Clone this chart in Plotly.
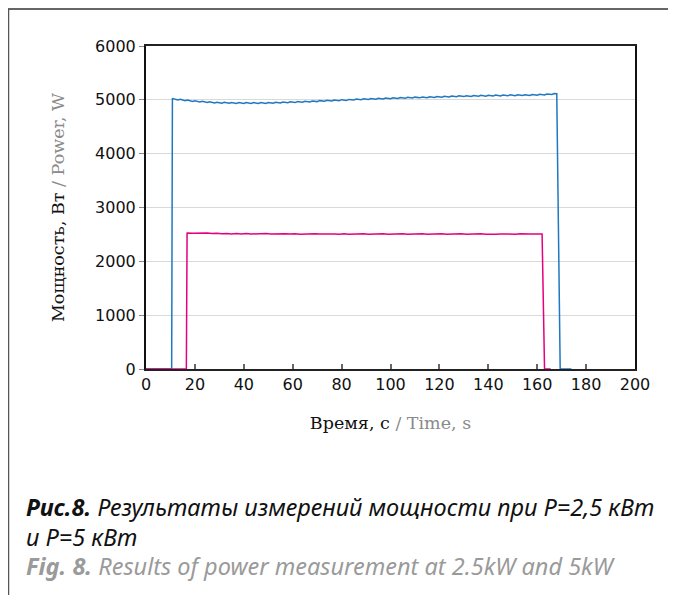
import plotly.graph_objects as go

# ---- data ----
blue_t = [0, 10.5, 10.8,
          11, 12, 13, 14, 15, 16, 17, 18, 19, 20,
          21, 22, 23, 24, 25, 26, 27, 28, 29, 30,
          31, 32, 33, 34, 35, 36, 37, 38, 39, 40,
          41, 42, 43, 44, 45, 46, 47, 48, 49, 50,
          51, 52, 53, 54, 55, 56, 57, 58, 59, 60,
          61, 62, 63, 64, 65, 66, 67, 68, 69, 70,
          71, 72, 73, 74, 75, 76, 77, 78, 79, 80,
          81, 82, 83, 84, 85, 86, 87, 88, 89, 90,
          91, 92, 93, 94, 95, 96, 97, 98, 99, 100,
          101, 102, 103, 104, 105, 106, 107, 108, 109, 110,
          111, 112, 113, 114, 115, 116, 117, 118, 119, 120,
          121, 122, 123, 124, 125, 126, 127, 128, 129, 130,
          131, 132, 133, 134, 135, 136, 137, 138, 139, 140,
          141, 142, 143, 144, 145, 146, 147, 148, 149, 150,
          151, 152, 153, 154, 155, 156, 157, 158, 159, 160,
          161, 162, 163, 164, 165, 166, 167, 168,
          169.4, 174]
blue_p = [0, 0, 5020,
          5023, 5009, 4999, 5011, 4993, 4983, 4995, 4981, 4971, 4983,
          4970, 4961, 4974, 4961, 4952, 4965, 4952, 4943, 4956, 4943,
          4937, 4953, 4941, 4935, 4950, 4941, 4933, 4949, 4940, 4934,
          4948, 4938, 4933, 4949, 4939, 4933, 4950, 4940, 4934, 4950,
          4941, 4937, 4954, 4945, 4941, 4958, 4949, 4945, 4962, 4953,
          4949, 4967, 4959, 4955, 4973, 4965, 4961, 4979, 4971, 4967,
          4985, 4977, 4973, 4991, 4983, 4979, 4997, 4989, 4985, 5003,
          4995, 4990, 5008, 5000, 4996, 5013, 5005, 5001, 5018, 5010,
          5006, 5023, 5015, 5010, 5028, 5020, 5015, 5033, 5024, 5020,
          5037, 5029, 5024, 5042, 5033, 5028, 5046, 5037, 5033, 5050,
          5041, 5037, 5054, 5045, 5041, 5058, 5049, 5045, 5062, 5053,
          5048, 5066, 5057, 5052, 5070, 5061, 5056, 5074, 5065, 5060,
          5077, 5068, 5063, 5080, 5071, 5066, 5083, 5074, 5069, 5086,
          5077, 5071, 5088, 5079, 5073, 5090, 5081, 5075, 5092, 5083,
          5078, 5094, 5085, 5080, 5096, 5087, 5082, 5098, 5089, 5084,
          5102, 5094, 5090, 5108, 5101, 5098, 5118, 5114,
          0, 0]

pink_t = [0, 16.5, 16.8,
          17, 19, 21, 23, 25, 27, 29, 31, 33, 35, 37, 39, 41, 43, 45, 47, 49,
          51, 53, 55, 57, 59, 61, 63, 65, 67, 69, 71, 73, 75, 77, 79, 81, 83,
          85, 87, 89, 91, 93, 95, 97, 99, 101, 103, 105, 107, 109, 111, 113,
          115, 117, 119, 121, 123, 125, 127, 129, 131, 133, 135, 137, 139,
          141, 143, 145, 147, 149, 151, 153, 155, 157, 159, 161, 162,
          163, 165.5]
pink_p = [0, 0, 2525,
          2528, 2522, 2526, 2518, 2524, 2515, 2521, 2512, 2519, 2510, 2517,
          2509, 2516, 2508, 2514, 2507, 2515, 2508, 2513, 2505, 2512, 2506,
          2513, 2505, 2511, 2504, 2512, 2506, 2511, 2504, 2510, 2503, 2511,
          2505, 2510, 2503, 2511, 2504, 2510, 2505, 2511, 2503, 2510, 2504,
          2511, 2505, 2510, 2503, 2511, 2504, 2510, 2505, 2512, 2504, 2510,
          2505, 2511, 2504, 2510, 2505, 2512, 2504, 2511, 2505, 2510, 2504,
          2512, 2505, 2511, 2504, 2510, 2506, 2512, 2508,
          0, 0]

x_ticks = [0, 20, 40, 60, 80, 100, 120, 140, 160, 180, 200]
y_ticks = [0, 1000, 2000, 3000, 4000, 5000, 6000]

# ---- layout geometry (window pixels; page body has an 8px margin) ----
O = 8
W, H = 676 - O, 595 - O
L, R, T, B = 146 - O, 635 - O, 46 - O, 369 - O
pw, ph = R - L, B - T


def px(x):
    return (x - O - L) / pw


def py(y):
    return (B - (y - O)) / ph


fig = go.Figure()
fig.add_trace(go.Scatter(x=blue_t, y=blue_p, mode="lines",
                         line=dict(color="#1f78c1", width=1.5), hoverinfo="skip"))
fig.add_trace(go.Scatter(x=pink_t, y=pink_p, mode="lines",
                         line=dict(color="#e5007e", width=1.5), hoverinfo="skip"))

tick_font = dict(family="DejaVu Sans", size=16, color="#111")
title_font = dict(family="DejaVu Serif", size=17.5, color="#111")

fig.update_layout(
    width=W, height=H,
    margin=dict(l=L, r=W - R, t=T, b=H - B),
    paper_bgcolor="white", plot_bgcolor="white",
    showlegend=False,
    xaxis=dict(range=[0, 200], tickvals=x_ticks, ticks="inside", ticklen=5,
               tickcolor="#666", tickwidth=1.5,
               showline=True, linecolor="#222", linewidth=2, mirror=True,
               showgrid=False, zeroline=False, tickfont=tick_font,
               title=dict(text="Время, с <span style='color:#8a8a8a'>/ Time, s</span>",
                          font=title_font, standoff=24)),
    yaxis=dict(range=[0, 6000], tickvals=y_ticks, ticks="outside", ticklen=5,
               tickcolor="#888", tickwidth=1,
               showline=True, linecolor="#111", linewidth=2, mirror=True,
               showgrid=True, gridcolor="#d9d9d9", gridwidth=1,
               zeroline=False, tickfont=tick_font,
               title=dict(text="Мощность, Вт <span style='color:#8a8a8a'>/ Power, W</span>",
                          font=title_font, standoff=26)),
)

# frame lines around the figure
fig.add_shape(type="line", xref="paper", yref="paper",
              x0=px(8), x1=px(676), y0=py(9), y1=py(9),
              line=dict(color="#333", width=1.5))
fig.add_shape(type="line", xref="paper", yref="paper",
              x0=px(8.5), x1=px(8.5), y0=py(9), y1=py(595),
              line=dict(color="#555", width=1.5))

cap_font = "Noto Sans"
cap_size = 23.5
fig.add_annotation(xref="paper", yref="paper", x=px(24), y=py(507),
                   xanchor="left", yanchor="middle", showarrow=False,
                   text="<b><i>Рис.8.</i></b><i> Результаты измерений мощности при P=2,5 кВт</i>",
                   font=dict(family=cap_font, size=cap_size, color="#111"))
fig.add_annotation(xref="paper", yref="paper", x=px(24), y=py(537),
                   xanchor="left", yanchor="middle", showarrow=False,
                   text="<i>и P=5 кВт</i>",
                   font=dict(family=cap_font, size=cap_size, color="#111"))
fig.add_annotation(xref="paper", yref="paper", x=px(24), y=py(566),
                   xanchor="left", yanchor="middle", showarrow=False,
                   text="<b><i>Fig. 8.</i></b><i> Results of power measurement at 2.5kW and 5kW</i>",
                   font=dict(family=cap_font, size=cap_size, color="#9a9a9a"))

fig.write_html("out.html")
